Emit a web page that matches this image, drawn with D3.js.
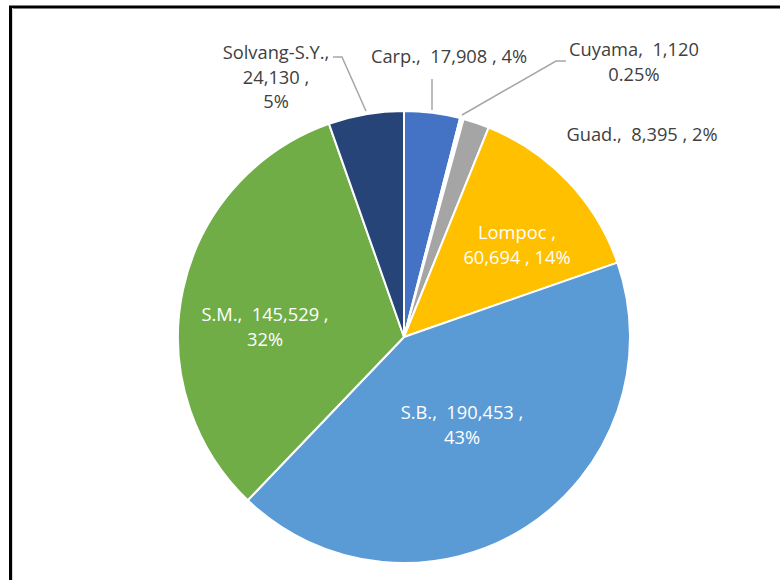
<!DOCTYPE html>
<html>
<head>
<meta charset="utf-8">
<script src="https://cdn.jsdelivr.net/npm/d3@7"></script>
<style>
  body { margin: 0; background: #fff; }
  text { font-family: "Open Sans", "Noto Sans", sans-serif; font-size: 18.3px; white-space: pre; }
</style>
</head>
<body>
<script>
// data
var names   = ["Carp.", "Cuyama", "Guad.", "Lompoc", "S.B.", "S.M.", "Solvang-S.Y."];
var values  = [17908, 1120, 8395, 60694, 190453, 145529, 24130];
var percent = ["4%", "0.25%", "2%", "14%", "43%", "32%", "5%"];
var colors  = ["#4472C4", "#ffffff", "#A5A5A5", "#FFC000", "#5B9BD5", "#70AD47", "#264478"];

// label layout: lines of text, anchor point (centre of first line), colour
var labels = [
  {lines: [names[0] + ",  17,908 , " + percent[0]], x: 449, y: 57, fill: "#404040"},
  {lines: [names[1] + ",  1,120", percent[1]], x: 634, y: 50, fill: "#404040"},
  {lines: [names[2] + ",  8,395 , " + percent[2]], x: 642, y: 135, fill: "#404040"},
  {lines: [names[3] + " ,", "60,694 , " + percent[3]], x: 517, y: 233, fill: "#ffffff"},
  {lines: [names[4] + ",  190,453 ,", percent[4]], x: 462, y: 413, fill: "#ffffff"},
  {lines: [names[5] + ",  145,529 ,", percent[5]], x: 265, y: 315, fill: "#ffffff"},
  {lines: [names[6] + ",", "24,130 ,", percent[6]], x: 276, y: 53, fill: "#404040"}
];
var lineGap = 24.5;

// leader lines
var leaders = [
  [[432, 79], [432, 110]],
  [[566, 61], [556, 61], [462, 115]],
  [[333, 57], [342, 57], [366, 111]]
];

var W = 780, H = 580;
var cx = 404, cy = 337, R = 226;

var svg = d3.select("body").append("svg")
    .attr("width", W)
    .attr("height", H);

// frame
svg.append("rect")
    .attr("x", 0).attr("y", 0).attr("width", W).attr("height", H)
    .attr("fill", "#fff");
svg.append("path")
    .attr("d", "M10.5,580 L10.5,7 L780,7")
    .attr("fill", "none")
    .attr("stroke", "#000")
    .attr("stroke-width", 3);
svg.append("line")
    .attr("x1", 12.5).attr("x2", 12.5).attr("y1", 8).attr("y2", 580)
    .attr("stroke", "#d9d9d9").attr("stroke-width", 1);

var pie = d3.pie().sort(null).value(function(d) { return d; });
var arc = d3.arc().innerRadius(0).outerRadius(R);

var g = svg.append("g")
    .attr("transform", "translate(" + cx + "," + cy + ")");

g.selectAll(".slice").data(pie(values))
  .enter().append("path")
    .attr("class", "slice")
    .attr("d", arc)
    .attr("fill", function(d, i) { return colors[i]; })
    .attr("stroke", "#fff")
    .attr("stroke-width", 2)
    .attr("stroke-linejoin", "round");

var line = d3.line();
svg.selectAll(".leader").data(leaders)
  .enter().append("path")
    .attr("class", "leader")
    .attr("d", line)
    .attr("fill", "none")
    .attr("stroke", "#a6a6a6")
    .attr("stroke-width", 1.5);

labels.forEach(function(l) {
  var t = svg.append("text")
      .attr("text-anchor", "middle")
      .attr("fill", l.fill);
  l.lines.forEach(function(s, k) {
    t.append("tspan")
      .attr("x", l.x)
      .attr("y", l.y + k * lineGap)
      .attr("dy", "0.35em")
      .text(s);
  });
});
</script>
</body>
</html>
